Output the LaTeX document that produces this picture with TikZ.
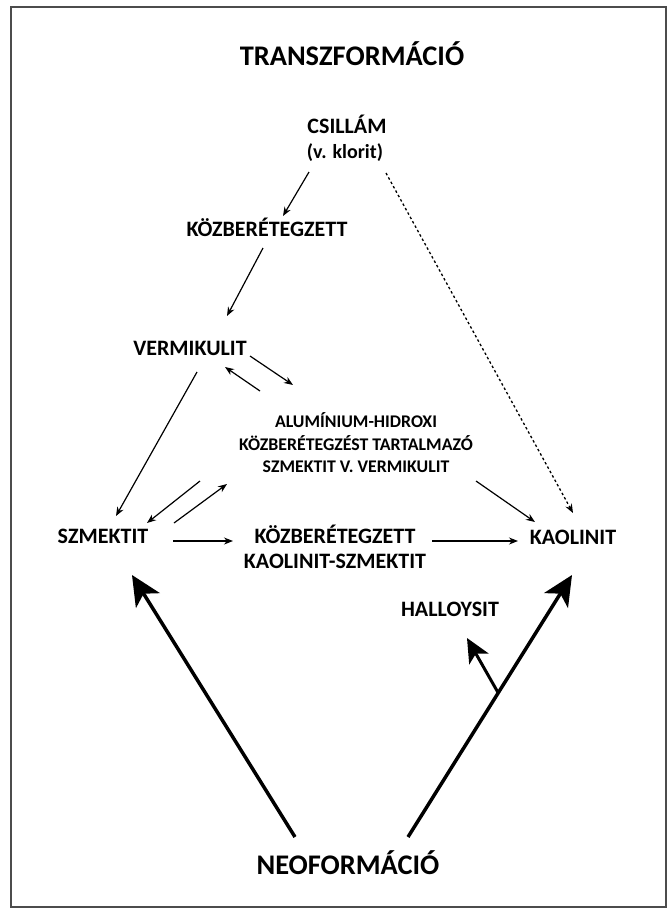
\documentclass[tikz,border=0pt]{standalone}
\usepackage{fontspec}
\setmainfont{Carlito}
\usetikzlibrary{calc,arrows.meta}
\tikzset{
	lbl/.style={font=\fontsize{22}{25}\selectfont\bfseries, inner sep=0pt, text height=0.644em, text depth=0pt},
	title/.style={font=\fontsize{28.4}{30}\selectfont\bfseries, inner sep=0pt, text height=0.644em, text depth=0pt},
	block/.style={font=\fontsize{17.8}{22.5}\selectfont\bfseries, inner sep=0pt, align=center},
	arr/.style={line width=1.2pt, -{Stealth[length=9pt,width=7pt]}},
	dotarr/.style={line width=1.3pt, dash pattern=on 2.5pt off 2.5pt, -{Stealth[length=9pt,width=7pt]}},
	bigarr/.style={line width=3.5pt, -{Stealth[length=30pt,width=28pt,inset=8pt]}},
	midarr/.style={line width=3pt, -{Stealth[length=24pt,width=22pt,inset=6pt]}}
}

\begin{document}
\begin{tikzpicture}[x=1pt, y=-1pt]
			%%%%% START %%%%%
			\useasboundingbox (0, 0) rectangle (668, 908);
			\draw[line width=1.2pt, color=black!70] (11, 7) rectangle (666, 907);
			
			\node[title] (transz) at (352, 62) {TRANSZFORMÁCIÓ};
			\node[title] (neo) at (348, 871) {NEOFORMÁCIÓ};
			
			\node[lbl] (csillam) at (347, 130) {CSILLÁM};
			\node[lbl, font=\fontsize{20}{22}\selectfont\bfseries] (klorit) at (345, 155) {(v. klorit)};
			\node[lbl] (kozb) at (267, 233) {KÖZBERÉTEGZETT};
			\node[lbl] (vermik) at (190, 352) {VERMIKULIT};
			\node[block] (alu) at (356, 443) {ALUMÍNIUM-HIDROXI\\KÖZBERÉTEGZÉST TARTALMAZÓ\\SZMEKTIT V. VERMIKULIT};
			\node[lbl] (szmektit) at (103, 540) {SZMEKTIT};
			\node[lbl, align=center, text height=, text depth=] (kozkaol) at (335, 547) {KÖZBERÉTEGZETT\\KAOLINIT-SZMEKTIT};
			\node[lbl] (kaolinit) at (573, 541) {KAOLINIT};
			\node[lbl] (halloysit) at (450, 613) {HALLOYSIT};
			
			\draw[arr] ($(klorit)+(-36, 17)$) -- ($(kozb)+(16, -17)$);
			\draw[arr] ($(kozb)+(-4, 15)$) -- ($(vermik)+(37, -36)$);
			\draw[dotarr] ($(klorit)+(41, 18)$) -- ($(kaolinit)+(0, -28)$);
			
			\draw[arr] ($(vermik)+(60, 4)$) -- ($(alu)+(-63, -58)$);
			\draw[arr] ($(alu)+(-96, -52)$) -- ($(vermik)+(35, 15)$);
			\draw[arr] ($(vermik)+(7, 20)$) -- ($(szmektit)+(13, -24)$);
			
			\draw[arr] ($(alu)+(-156, 38)$) -- ($(szmektit)+(44, -17)$);
			\draw[arr] ($(szmektit)+(71, -17)$) -- ($(alu)+(-129, 41)$);
			\draw[arr] ($(alu)+(120, 38)$) -- ($(kaolinit)+(-38, -19)$);
			
			\draw[arr] ($(szmektit)+(70, 1)$) -- ($(kozkaol)+(-102, -6)$);
			\draw[arr] ($(kozkaol)+(97, -6)$) -- ($(kaolinit)+(-55, 0)$);
			
			\draw[bigarr] ($(neo)+(-53, -34)$) -- ($(szmektit)+(29, 35)$);
			\draw[bigarr] ($(neo)+(60, -34)$) -- coordinate[pos=0.55] (branch) ($(kaolinit)+(-1, 34)$);
			\draw[midarr] (branch) -- ($(halloysit)+(17, 25)$);
			
			%%%%% END %%%%%
		\end{tikzpicture}
\end{document}
